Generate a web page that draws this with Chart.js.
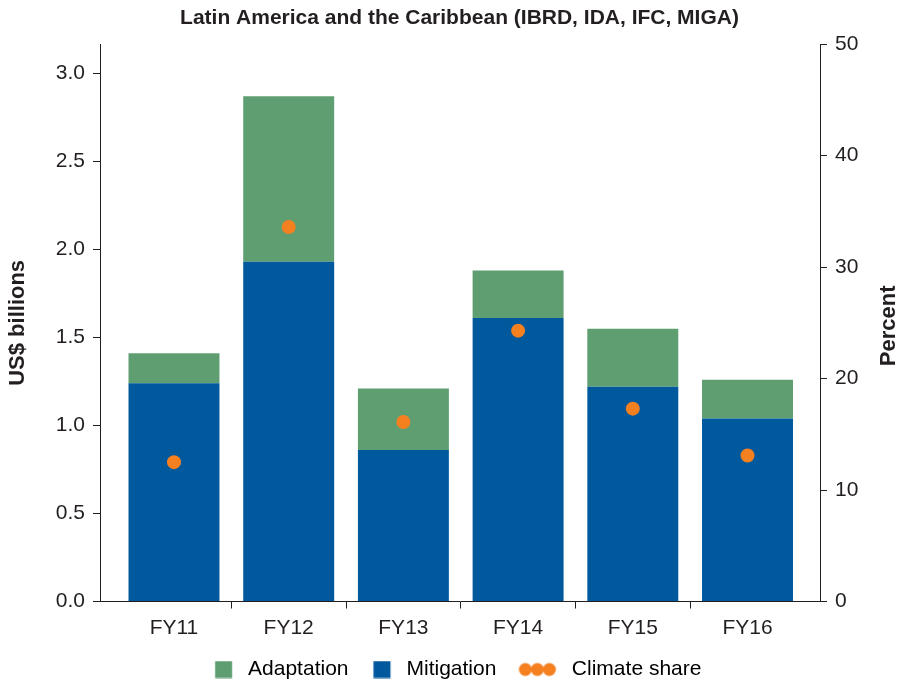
<!DOCTYPE html>
<html>
<head>
<meta charset="utf-8">
<script src="https://cdn.jsdelivr.net/npm/chart.js@4"></script>
<style>
  body { margin: 0; background: #fff; }
</style>
</head>
<body>
<canvas id="chart" width="901" height="681"></canvas>
<script>
const categories = ["FY11", "FY12", "FY13", "FY14", "FY15", "FY16"];
const mitigation = [1.24, 1.93, 0.86, 1.61, 1.22, 1.04];
const adaptation = [0.17, 0.94, 0.35, 0.27, 0.33, 0.22];
const climateShare = [12.5, 33.6, 16.1, 24.3, 17.3, 13.1];
const leftTicks = [0, 0.5, 1.0, 1.5, 2.0, 2.5, 3.0];

const GREEN = "rgb(94, 158, 113)";
const BLUE = "rgb(0, 88, 157)";
const ORANGE = "rgb(245, 128, 32)";
const INK = "#231f20";
const FONT = "'Liberation Sans', Arial, Helvetica, sans-serif";

Chart.defaults.font.family = FONT;
Chart.defaults.font.size = 21;
Chart.defaults.color = INK;

// legend markers: the image is centred on the legend box, so the marker
// is placed inside a wider transparent canvas (box width BOX_W)
const BOX_W = 37.5;
const HALF = 45;
const NB = "\u00a0\u00a0\u00a0"; // extra room after a legend label
function markerCanvas(draw) {
  const c = document.createElement("canvas");
  c.width = HALF * 2; c.height = 18;
  const g = c.getContext("2d");
  draw(g, HALF - BOX_W / 2);
  return c;
}
function squareMarker(color) {
  return markerCanvas((g, left) => {
    g.fillStyle = color;
    g.fillRect(left + BOX_W - 22.5, 0.5, 17, 17);
  });
}
function dotsMarker(color) {
  return markerCanvas((g, left) => {
    g.fillStyle = color;
    const start = left + BOX_W - 42.5;
    [6.5, 18.5, 30.5].forEach(cx => {
      g.beginPath();
      g.arc(start + cx, 9, 6.5, 0, Math.PI * 2);
      g.fill();
    });
  });
}

const xy = (vals) => vals.map((v, i) => ({ x: i, y: v }));

const rightTitle = {
  id: "rightTitle",
  afterDraw(chart) {
    const s = chart.scales.y1;
    const ctx = chart.ctx;
    ctx.save();
    ctx.font = "bold 22px " + FONT;
    ctx.fillStyle = INK;
    ctx.textAlign = "center";
    ctx.textBaseline = "middle";
    ctx.translate(s.right - 12, (s.top + s.bottom) / 2 + 3);
    ctx.rotate(-Math.PI / 2);
    ctx.fillText("Percent", 0, 0);
    ctx.restore();
  }
};

new Chart(document.getElementById("chart"), {
  type: "bar",
  data: {
    datasets: [
      {
        type: "scatter",
        label: "Climate share",
        data: xy(climateShare),
        yAxisID: "y1",
        backgroundColor: ORANGE,
        borderWidth: 0,
        pointRadius: 7,
        order: 0,
      },
      {
        label: "Mitigation",
        data: xy(mitigation),
        backgroundColor: BLUE,
        yAxisID: "y",
        order: 1,
      },
      {
        label: "Adaptation",
        data: xy(adaptation),
        backgroundColor: GREEN,
        yAxisID: "y",
        order: 1,
      },
    ],
  },
  options: {
    responsive: false,
    animation: false,
    layout: { padding: { left: 18, right: 0, top: 0, bottom: -9 } },
    datasets: {
      bar: { categoryPercentage: 1, barPercentage: 0.793, borderWidth: 0 },
    },
    plugins: {
      tooltip: { enabled: false },
      title: {
        display: true,
        text: "Latin America and the Caribbean (IBRD, IDA, IFC, MIGA)",
        font: { size: 21, weight: "bold" },
        color: INK,
        padding: { top: 6, bottom: 13 },
      },
      legend: {
        position: "bottom",
        labels: {
          usePointStyle: true,
          pointStyleWidth: BOX_W,
          padding: 10,
          font: { size: 21 },
          color: INK,
          generateLabels: () => [
            { text: "Adaptation", pointStyle: squareMarker(GREEN), fillStyle: GREEN, lineWidth: 0, datasetIndex: 2 },
            { text: "Mitigation" + NB, pointStyle: squareMarker(BLUE), fillStyle: BLUE, lineWidth: 0, datasetIndex: 1 },
            { text: "Climate share" + NB, pointStyle: dotsMarker(ORANGE), fillStyle: ORANGE, lineWidth: 0, datasetIndex: 0 },
          ],
        },
      },
    },
    scales: {
      x: {
        type: "linear",
        stacked: true,
        offset: false,
        min: -0.645,
        max: 5.632,
        afterBuildTicks: (s) => { s.ticks = categories.map((c, i) => ({ value: i })); },
        afterFit: (s) => { s.height = 47.5; },
        ticks: {
          callback: (v) => categories[v],
          padding: 7,
          maxRotation: 0,
          autoSkip: false,
          color: INK,
        },
        grid: {
          offset: true,
          drawOnChartArea: false,
          tickLength: 7,
          tickColor: (c) => (c.type === "tick" && c.index > 0 ? INK : "transparent"),
        },
        border: { display: true, color: INK, width: 1 },
      },
      y: {
        position: "left",
        stacked: true,
        min: 0,
        max: 3.166,
        afterBuildTicks: (s) => { s.ticks = leftTicks.map(v => ({ value: v })); },
        afterFit: (s) => { s.width = 82; },
        ticks: {
          callback: (v) => v.toFixed(1),
          padding: 8,
          color: INK,
        },
        grid: { drawOnChartArea: false, tickLength: 7, tickColor: INK },
        border: { display: true, color: INK, width: 1 },
        title: {
          display: true,
          text: "US$ billions",
          font: { size: 22, weight: "bold" },
          color: INK,
          padding: { top: -13, bottom: 0 },
        },
      },
      y1: {
        position: "right",
        min: 0,
        max: 50,
        afterFit: (s) => { s.width = 81; },
        ticks: { stepSize: 10, padding: 8, color: INK },
        grid: { drawOnChartArea: false, tickLength: 7, tickColor: INK },
        border: { display: true, color: INK, width: 1 },
      },
    },
  },
  plugins: [rightTitle],
});
</script>
</body>
</html>
